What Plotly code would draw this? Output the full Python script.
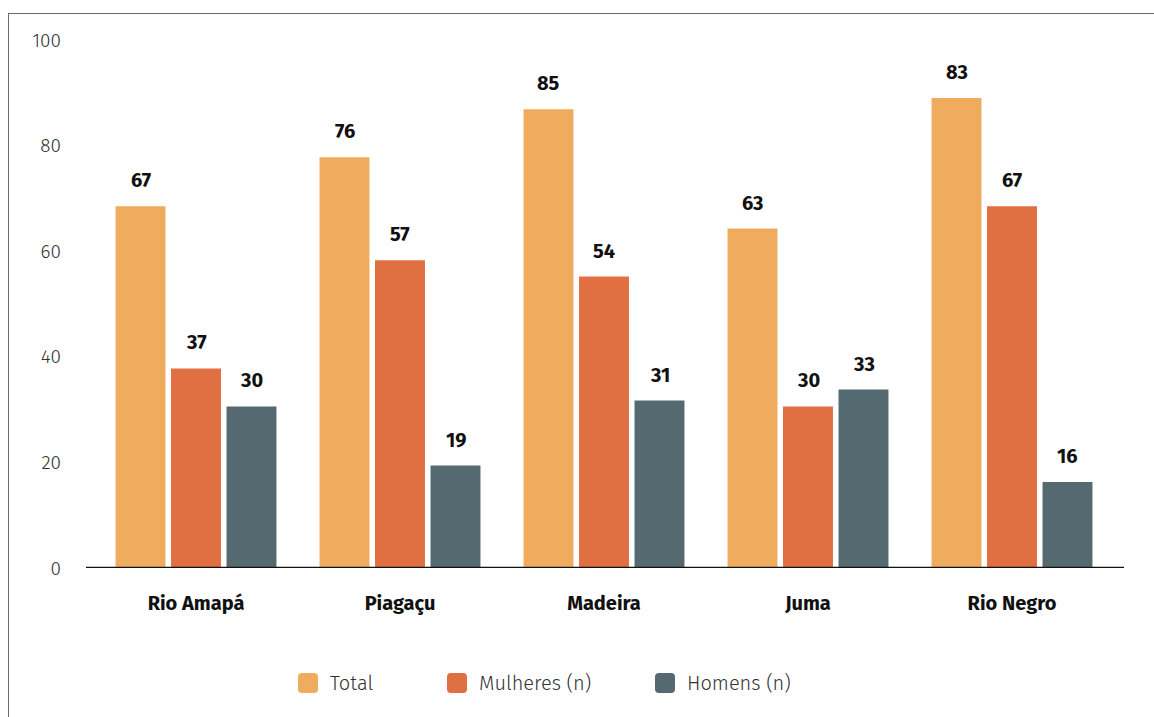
import plotly.graph_objects as go

categories = ["Rio Amapá", "Piagaçu", "Madeira", "Juma", "Rio Negro"]
series_names = ["Total", "Mulheres (n)", "Homens (n)"]
colors = ["#F0AC5E", "#E07041", "#546A70"]

total_h = [68.5, 77.8, 86.9, 64.3, 89.0]
mulheres_h = [37.8, 58.3, 55.2, 30.6, 68.5]
homens_h = [30.6, 19.4, 31.7, 33.8, 16.3]

# value labels printed above the bars
total_lbl = [67, 76, 85, 63, 83]
mulheres_lbl = [37, 57, 54, 30, 67]
homens_lbl = [30, 19, 31, 33, 16]

y_ticks = [0, 20, 40, 60, 80, 100]

heights = [total_h, mulheres_h, homens_h]
labels = [total_lbl, mulheres_lbl, homens_lbl]

W, H = 1154, 717
L, R, T, B = 94, 1114, 40, 568  # plot area in figure pixels


def px(x):
    return (x - L) / (R - L)


def py(y):
    return (B - y) / (B - T)


FONT = "Fira Sans, Open Sans, Noto Sans, sans-serif"

fig = go.Figure()
for name, h, c in zip(series_names, heights, colors):
    fig.add_trace(go.Bar(x=categories, y=h, name=name, marker=dict(color=c, line=dict(width=0)),
                         showlegend=False, hoverinfo="skip"))

annotations = []
offsets = [-55.5, 0, 55.5]
for k in range(3):
    for i, cat in enumerate(categories):
        annotations.append(dict(x=cat, y=heights[k][i], xref="x", yref="y", text="<b>%d</b>" % labels[k][i],
                                showarrow=False, xshift=offsets[k], yshift=26, yanchor="middle",
                                font=dict(family=FONT, size=20, color="#111111")))

# legend (manual)
leg_sq_x = [308, 457, 665]
leg_txt_x = [328, 477, 685]
leg_y = 683
shapes = []
sq = "M -10,-6 Q -10,-10 -6,-10 L 6,-10 Q 10,-10 10,-6 L 10,6 Q 10,10 6,10 L -6,10 Q -10,10 -10,6 Z"
for k in range(3):
    shapes.append(dict(type="path", xref="paper", yref="paper", xsizemode="pixel", ysizemode="pixel",
                       xanchor=px(leg_sq_x[k]), yanchor=py(leg_y), path=sq,
                       fillcolor=colors[k], line=dict(width=0)))
    annotations.append(dict(x=px(leg_txt_x[k]), y=py(leg_y), xref="paper", yref="paper",
                            text=series_names[k], showarrow=False, xanchor="left", yanchor="middle",
                            font=dict(family=FONT, size=20, color="#333333", weight=300)))

# baseline
shapes.append(dict(type="line", xref="paper", yref="y", x0=px(86), x1=px(1124), y0=0, y1=0,
                   line=dict(color="#111111", width=2.5)))
# frame lines (left and top)
shapes.append(dict(type="line", xref="paper", yref="paper", x0=px(8.5), x1=px(8.5), y0=py(13), y1=py(740),
                   line=dict(color="#5B6E78", width=1)))
shapes.append(dict(type="line", xref="paper", yref="paper", x0=px(8), x1=px(1170), y0=py(13.5), y1=py(13.5),
                   line=dict(color="#5B6E78", width=1)))

fig.update_layout(
    width=W, height=H,
    margin=dict(l=L, r=W - R, t=T, b=H - B, pad=0),
    paper_bgcolor="white", plot_bgcolor="white",
    barmode="group", bargap=0.184, bargroupgap=0.1,
    xaxis=dict(showgrid=False, showline=False, zeroline=False, ticks="",
               tickfont=dict(family=FONT, size=20, color="#111111", weight="bold"),
               ticklabelstandoff=21),
    yaxis=dict(range=[0, 100], tickvals=y_ticks, showgrid=False, showline=False, zeroline=False, ticks="",
               tickfont=dict(family=FONT, size=19, color="#333333", weight=300),
               ticklabelstandoff=32),
    shapes=shapes, annotations=annotations, showlegend=False,
)

fig.write_html("out.html", config={"displayModeBar": False},
               post_script="document.body.style.margin='0';document.body.style.overflow='hidden';")
